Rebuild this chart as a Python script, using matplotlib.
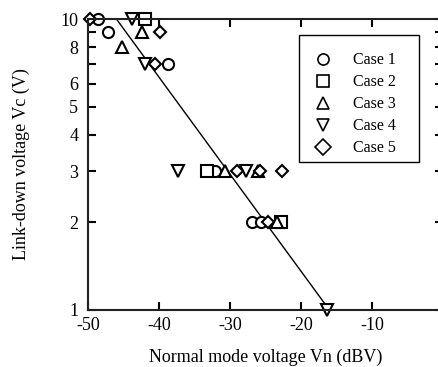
import matplotlib
matplotlib.use("Agg")
import matplotlib.pyplot as plt
from matplotlib.patches import Rectangle
from matplotlib.ticker import FixedLocator, NullFormatter

plt.rcParams['font.family'] = ['Liberation Serif', 'DejaVu Serif']

# data: x = Vn (dBV), y = Vc (V)
case1_x = [-48.6, -47.2, -38.8, -32.1, -26.9, -25.6]
case1_y = [10, 9, 7, 3, 2, 2]
case2_x = [-42.0, -33.2, -22.8]
case2_y = [10, 3, 2]
case3_x = [-42.4, -45.2, -30.7, -26.0, -23.4]
case3_y = [9, 8, 3, 3, 2]
case4_x = [-43.8, -42.0, -37.3, -27.8, -16.4]
case4_y = [10, 7, 3, 3, 1]
case5_x = [-49.7, -39.9, -40.5, -29.0, -25.8, -22.7, -24.7]
case5_y = [10, 9, 7, 3, 3, 3, 2]

# fitted line end points
fit_x = [-46.0, -16.0]
fit_y = [10, 1]

cases = [
    (case1_x, case1_y, 'o', 'Case 1'),
    (case2_x, case2_y, 's', 'Case 2'),
    (case3_x, case3_y, '^', 'Case 3'),
    (case4_x, case4_y, 'v', 'Case 4'),
    (case5_x, case5_y, 'D', 'Case 5'),
]
sizes = {'o': 8, 's': 8, '^': 8, 'v': 8, 'D': 6.5}

fig = plt.figure(figsize=(4.39, 3.67), dpi=100)
W, H = 439.0, 367.0
ax = fig.add_axes([88 / W, (H - 310) / H, (443 - 88) / W, (310 - 19) / H])

ax.plot(fit_x, fit_y, color='black', lw=1.0)
for xs, ys, m, lab in cases:
    ax.plot(xs, ys, linestyle='none', marker=m, markersize=sizes[m],
            markerfacecolor='white', markeredgecolor='black',
            markeredgewidth=1.5, label=lab, clip_on=False)

ax.set_yscale('log')
ax.set_xlim(-50, 0)
ax.set_ylim(1, 10)
ax.set_xticks([-50, -40, -30, -20, -10, 0])
ax.set_xticklabels(['-50', '-40', '-30', '-20', '-10', '0'])
ax.yaxis.set_major_locator(FixedLocator([1, 2, 3, 4, 5, 6, 8, 10]))
ax.set_yticklabels(['1', '2', '3', '4', '5', '6', '8', '10'])
ax.yaxis.set_minor_locator(FixedLocator([7, 9]))
ax.yaxis.set_minor_formatter(NullFormatter())

ax.tick_params(axis='both', which='both', direction='in', top=True,
               right=True, width=1.5, labelsize=13)
ax.tick_params(axis='x', which='major', length=6, pad=5)
ax.tick_params(axis='y', which='major', length=6, pad=7)
ax.tick_params(axis='y', which='minor', length=6)
for s in ax.spines.values():
    s.set_linewidth(1.5)
    s.set_color('#222222')

ax.set_xlabel('Normal mode voltage Vn (dBV)', fontsize=13, labelpad=10.5)
ax.set_ylabel('Link-down voltage Vc (V)', fontsize=13, labelpad=22)

# legend box drawn separately, entries placed inside it
box = Rectangle((299 / W, 1 - 162 / H), 120 / W, 127 / H,
                transform=fig.transFigure, facecolor='white',
                edgecolor='black', linewidth=1.0, zorder=4, clip_on=False)
ax.add_patch(box)
leg = ax.legend(loc='upper left', bbox_to_anchor=(299 / W, 1 - 41 / H),
                bbox_transform=fig.transFigure, fontsize=11.5,
                frameon=False, handletextpad=1.1, labelspacing=0.375,
                borderpad=0.72, handlelength=1.56, borderaxespad=0)
leg.set_zorder(6)
for h in leg.legend_handles:
    h.set_markersize(8)
    h.set_markeredgewidth(1.2)

fig.savefig('out.png', dpi=100)
